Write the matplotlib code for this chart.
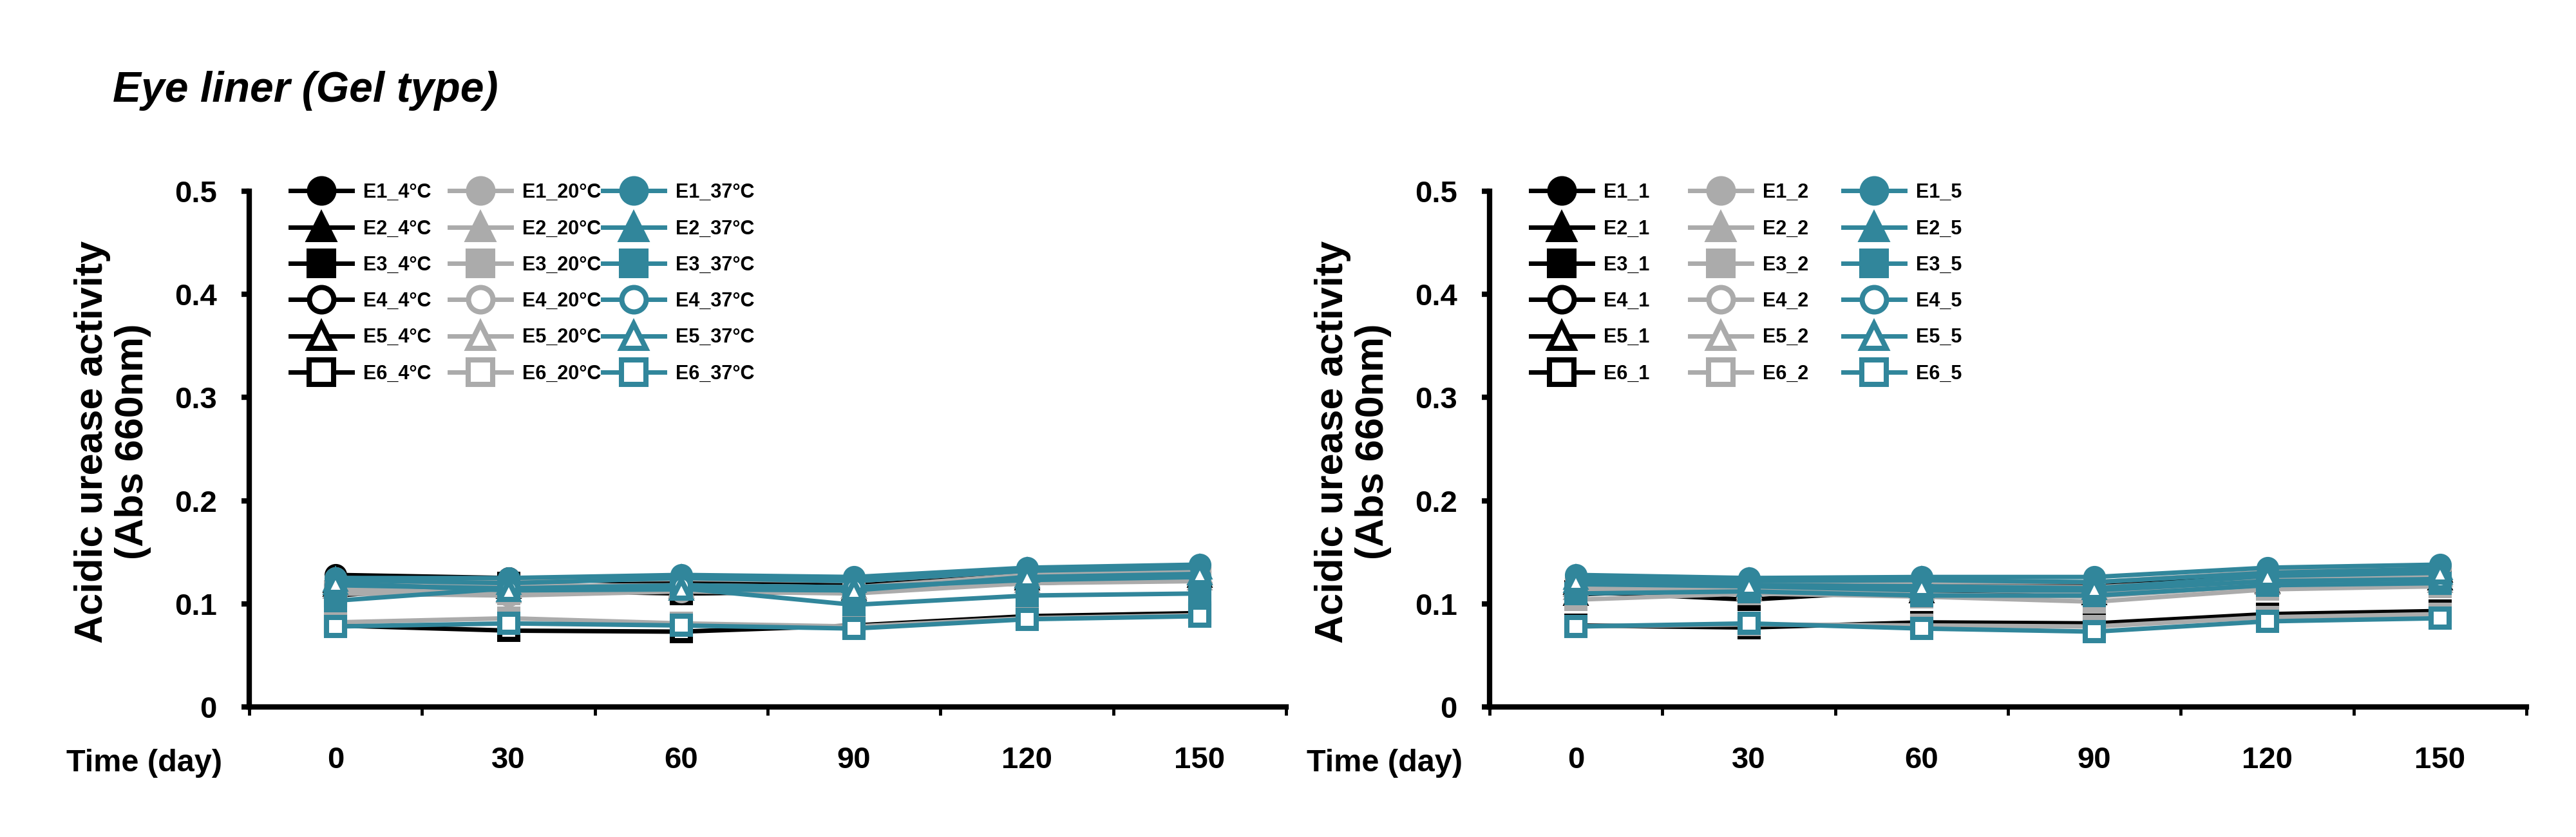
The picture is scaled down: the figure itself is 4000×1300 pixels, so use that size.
import matplotlib
matplotlib.use("Agg")
import matplotlib.pyplot as plt

plt.rcParams['font.family'] = ['Liberation Sans', 'DejaVu Sans']
plt.rcParams['font.weight'] = 'bold'

# data (Abs 660nm)
days = ["0", "30", "60", "90", "120", "150"]
samples = ["E1", "E2", "E3", "E4", "E5", "E6"]

# left panel: storage temperature
temp_groups = ["4°C", "20°C", "37°C"]
temp_4 = [
    [0.128, 0.125, 0.120, 0.120, 0.128, 0.131],
    [0.122, 0.118, 0.116, 0.116, 0.126, 0.129],
    [0.108, 0.120, 0.110, 0.113, 0.120, 0.124],
    [0.112, 0.113, 0.110, 0.112, 0.122, 0.126],
    [0.118, 0.116, 0.114, 0.114, 0.124, 0.127],
    [0.079, 0.074, 0.073, 0.079, 0.088, 0.091],
]
temp_20 = [
    [0.125, 0.122, 0.124, 0.122, 0.132, 0.135],
    [0.120, 0.117, 0.118, 0.116, 0.128, 0.131],
    [0.112, 0.110, 0.115, 0.114, 0.124, 0.126],
    [0.110, 0.108, 0.112, 0.110, 0.120, 0.122],
    [0.116, 0.112, 0.116, 0.113, 0.122, 0.124],
    [0.082, 0.086, 0.081, 0.078, 0.086, 0.089],
]
temp_37 = [
    [0.125, 0.125, 0.128, 0.126, 0.135, 0.138],
    [0.123, 0.120, 0.125, 0.122, 0.132, 0.135],
    [0.103, 0.115, 0.115, 0.099, 0.108, 0.110],
    [0.118, 0.115, 0.118, 0.116, 0.123, 0.126],
    [0.120, 0.113, 0.114, 0.113, 0.126, 0.129],
    [0.078, 0.081, 0.079, 0.076, 0.085, 0.088],
]

# right panel: replicate lots
lot_groups = ["1", "2", "5"]
lot_1 = [
    [0.125, 0.120, 0.122, 0.120, 0.130, 0.134],
    [0.120, 0.118, 0.119, 0.118, 0.128, 0.132],
    [0.112, 0.104, 0.114, 0.112, 0.122, 0.126],
    [0.116, 0.113, 0.116, 0.114, 0.124, 0.127],
    [0.109, 0.116, 0.112, 0.110, 0.121, 0.124],
    [0.079, 0.077, 0.082, 0.081, 0.090, 0.093],
]
lot_2 = [
    [0.124, 0.122, 0.121, 0.121, 0.131, 0.134],
    [0.118, 0.116, 0.117, 0.116, 0.125, 0.128],
    [0.104, 0.110, 0.107, 0.102, 0.114, 0.117],
    [0.112, 0.113, 0.109, 0.107, 0.118, 0.120],
    [0.115, 0.114, 0.114, 0.111, 0.120, 0.122],
    [0.078, 0.080, 0.079, 0.078, 0.087, 0.090],
]
lot_5 = [
    [0.128, 0.125, 0.126, 0.126, 0.135, 0.138],
    [0.125, 0.122, 0.123, 0.121, 0.130, 0.134],
    [0.110, 0.112, 0.108, 0.108, 0.118, 0.120],
    [0.119, 0.117, 0.113, 0.113, 0.122, 0.124],
    [0.122, 0.118, 0.117, 0.115, 0.127, 0.130],
    [0.078, 0.081, 0.076, 0.073, 0.083, 0.086],
]

group_colors = ["#000000", "#ABABAB", "#31869B"]
markers = ["o", "^", "s", "o", "^", "s"]
filled = [True, True, True, False, False, False]

DPI = 100
W, H = 4000, 1300
fig = plt.figure(figsize=(W / DPI, H / DPI), dpi=DPI)

AX_W_PX, AX_H_PX = 1610, 801
ax_w = AX_W_PX / W
ax_b = (H - 1098) / H
ax_h = AX_H_PX / H
axes = [fig.add_axes([387 / W, ax_b, ax_w, ax_h]),
        fig.add_axes([2313 / W, ax_b, ax_w, ax_h])]

panels = [
    (axes[0], [temp_4, temp_20, temp_37], temp_groups),
    (axes[1], [lot_1, lot_2, lot_5], lot_groups),
]

xs = [i + 0.5 for i in range(len(days))]
# legend columns sit at a fixed pitch (px from the y axis), like Excel does
legend_cols_px = [64, 311, 549]

for ax, groups, group_names in panels:
    handles_by_group = []
    for gi, group in enumerate(groups):
        color = group_colors[gi]
        hs = []
        for si, vals in enumerate(group):
            h, = ax.plot(xs, vals, color=color, lw=5,
                         marker=markers[si], markersize=19.5,
                         markeredgewidth=5.8, markeredgecolor=color,
                         markerfacecolor=color if filled[si] else "white",
                         label=f"{samples[si]}_{group_names[gi]}",
                         solid_joinstyle="miter")
            hs.append(h)
        handles_by_group.append(hs)

    ax.set_xlim(0, 6)
    ax.set_ylim(0, 0.5)
    ax.set_xticks(range(7))
    ax.set_xticklabels([])
    ax.set_xticks(xs, minor=True)
    ax.set_xticklabels(days, minor=True)
    ax.set_yticks([0, 0.1, 0.2, 0.3, 0.4, 0.5])
    ax.set_yticklabels(["0", "0.1", "0.2", "0.3", "0.4", "0.5"])

    for side in ["top", "right"]:
        ax.spines[side].set_visible(False)
    for side in ["left", "bottom"]:
        ax.spines[side].set_linewidth(6)
        ax.spines[side].set_capstyle("projecting")

    ax.tick_params(axis="x", which="major", direction="out", length=9.5, width=3.5)
    ax.tick_params(axis="x", which="minor", length=0, pad=44, labelsize=34)
    ax.tick_params(axis="y", direction="out", length=9, width=6, pad=27, labelsize=34)
    for lbl in ax.get_xticklabels(minor=True) + ax.get_yticklabels():
        lbl.set_fontweight("bold")

    ax.text(-212 / AX_W_PX, 0.514, "Acidic urease activity\n(Abs 660nm)",
            transform=ax.transAxes, rotation=90, ha="center", va="center",
            multialignment="center", fontsize=44, fontweight="bold", linespacing=1.15)
    ax.text(-42 / AX_W_PX, -87 / AX_H_PX, "Time (day)", transform=ax.transAxes,
            ha="right", va="center", fontsize=35, fontweight="bold")

    # one legend column per group
    for gi, hs in enumerate(handles_by_group):
        leg = ax.legend(handles=hs, loc="upper left",
                        bbox_to_anchor=(legend_cols_px[gi] / AX_W_PX, 1.016),
                        frameon=False, prop={"weight": "bold", "size": 22},
                        handlelength=3.15, handletextpad=0.55, labelspacing=0.86,
                        borderpad=0, borderaxespad=0, markerscale=1.4)
        if gi < len(handles_by_group) - 1:
            ax.add_artist(leg)

fig.text(175 / W, 1 - 158 / H, "Eye liner (Gel type)", fontsize=47.5,
         fontweight="bold", fontstyle="italic", ha="left", va="baseline")

fig.savefig("out.png", dpi=DPI)
